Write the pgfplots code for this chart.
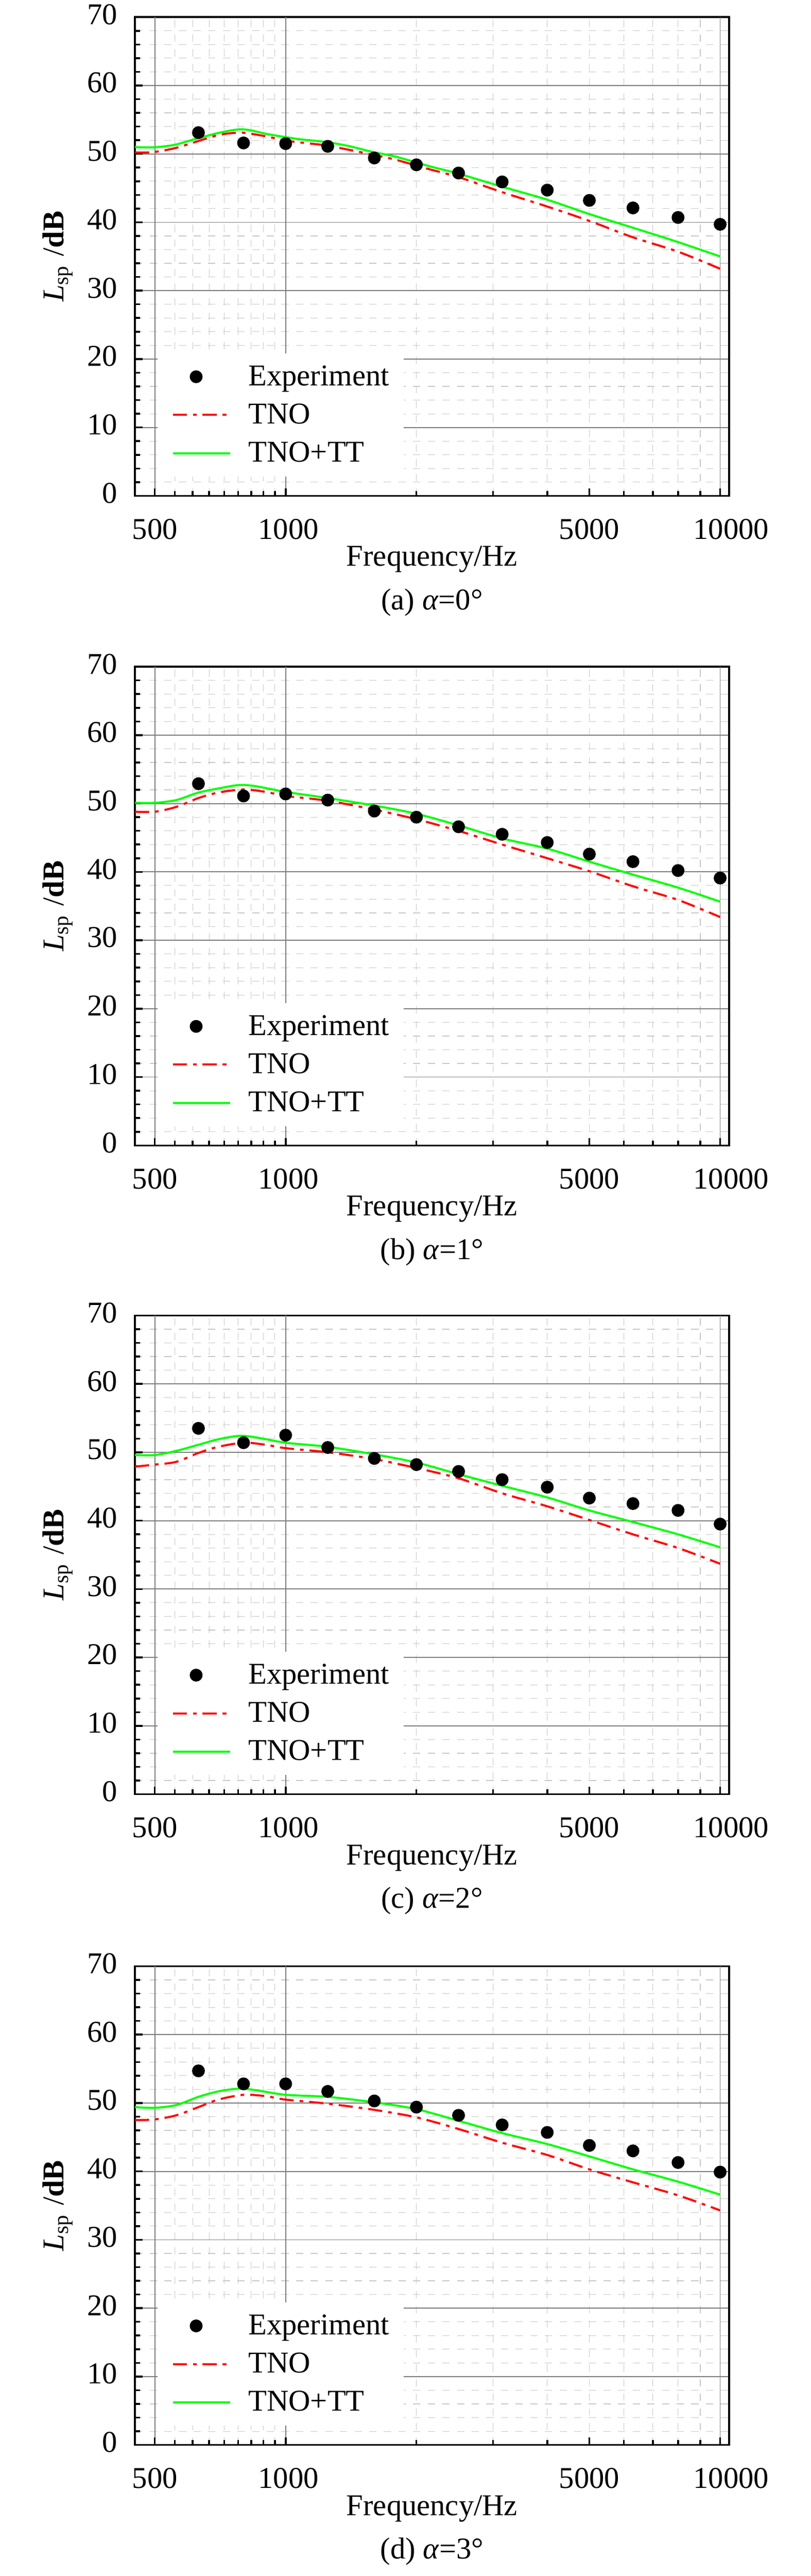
\documentclass[border=0pt]{standalone}
\usepackage{fontspec}
\setmainfont{Liberation Serif}
\usepackage{pgfplots}
\pgfplotsset{compat=1.18}
\newcommand{\fs}{\fontsize{6.6pt}{7.9pt}\selectfont}
\definecolor{majgrid}{RGB}{125,125,125}
\definecolor{mingrid}{RGB}{200,200,200}
\definecolor{tnored}{RGB}{255,0,0}
\definecolor{ttgreen}{RGB}{0,255,0}
\pgfplotsset{
  every axis/.append style={
    scale only axis, width=129.85pt, height=104.6pt, clip=false,
    xmin=450, xmax=10480, ymin=0, ymax=70,
    xtick={500,1000,5000,10000},
    xticklabels={500,\hspace*{1.2pt}1000,5000,\hspace*{4.8pt}10000},
    minor xtick={555.56,611.11,666.67,722.22,777.78,833.33,888.89,944.44,2000,3000,4000,5000,6000,7000,8000,9000},
    ytick={0,10,20,30,40,50,60,70}, minor y tick num=4,
    tick align=inside, xtick pos=left, ytick pos=left,
    major tick length=1.65pt, minor tick length=1.1pt,
    axis line style={line width=0.4pt},
    ymajorgrids=true, yminorgrids=true, xminorgrids=true,
    major grid style={majgrid, line width=0.2pt},
    minor grid style={mingrid, line width=0.13pt, dash pattern=on 1.6pt off 1.6pt},
    extra x ticks={500,1000,10000}, extra x tick labels={},
    extra x tick style={grid=major},
    /pgf/number format/assume math mode=true,
    yticklabel style={font=\fs, xshift=-0.3pt, yshift=0.6pt},
    xticklabel style={font=\fs, yshift=-1.5pt},
    xlabel={Frequency/Hz},
    xlabel style={font=\fs, at={(axis description cs:0.5,-0.133)}, anchor=center},
    ylabel={\textit{L}\textsubscript{sp} /\textbf{dB}},
    ylabel style={font=\fs, at={(axis description cs:-0.130,0.5)}, anchor=center},
    legend style={at={(rel axis cs:0.0366,0.2994)}, anchor=north west, draw=none, fill=white,
      inner xsep=3.1pt, inner ysep=2pt, font=\fs, row sep=2.15pt, column sep=3.8pt,
      nodes={inner sep=0pt, text height=5pt, text depth=1.2pt}},
    legend cell align=left,
  },
  every tick/.append style={black, line width=0.4pt},
  expleg/.style={legend image code/.code={\path (0pt,0pt) (12.5pt,0pt); \draw[##1] plot coordinates {(5.1pt,0pt)};}},
  lineleg/.style={legend image code/.code={\draw[##1] (0pt,0pt) -- (12.5pt,0pt);}},
  expst/.style={only marks, mark=*, mark size=1.2pt, black, expleg},
  tnost/.style={tnored, line width=0.45pt, dash pattern=on 3.1pt off 1.3pt on 0.8pt off 1.3pt, smooth, no marks, lineleg},
  ttst/.style={ttgreen, line width=0.45pt, smooth, no marks, lineleg},
}
\begin{document}
\begin{tikzpicture}
\useasboundingbox (0,0) rectangle (177.2pt,562.8pt);
% (a)
\begin{semilogxaxis}[at={(29.5pt,454.47pt)}, anchor=south west]
\addplot[expst] coordinates {(630,53.1)(800,51.6)(1000,51.5)(1250,51.1)(1600,49.4)(2000,48.4)(2500,47.2)(3150,45.9)(4000,44.7)(5000,43.2)(6300,42.1)(8000,40.7)(10000,39.7)};
\addlegendentry{Experiment}
\addplot[tnost] coordinates {(450,50.2)(495,50.25)(553,50.8)(617,51.7)(699,52.75)(772,53.1)(810,53.05)(895,52.6)(1000,51.95)(1105,51.6)(1235,51.25)(1397,50.6)(1581,49.9)(1790,49.15)(2128,47.8)(2500,46.6)(3150,44.4)(4000,42.3)(5000,40.2)(6300,37.8)(8000,35.7)(10000,33.2)};
\addlegendentry{TNO}
\addplot[ttst] coordinates {(450,51.0)(495,50.95)(553,51.3)(610,52.05)(699,53.05)(772,53.55)(822,53.5)(907,52.9)(1000,52.45)(1091,52.1)(1235,51.75)(1397,51.15)(1581,50.3)(1790,49.6)(2128,48.25)(2500,47.1)(3150,45.2)(4000,43.3)(5000,41.2)(6300,39.2)(8000,37.1)(10000,35.0)};
\addlegendentry{TNO+TT}
\node[font=\fs] at (axis description cs:0.5,-0.223) {(a) \textit{α}=0°};
\end{semilogxaxis}
% (b)
\begin{semilogxaxis}[at={(29.5pt,312.54pt)}, anchor=south west]
\addplot[expst] coordinates {(630,52.9)(800,51.1)(1000,51.4)(1250,50.5)(1600,48.9)(2000,48.0)(2500,46.6)(3150,45.5)(4000,44.3)(5000,42.6)(6300,41.5)(8000,40.2)(10000,39.1)};
\addlegendentry{Experiment}
\addplot[tnost] coordinates {(450,48.8)(500,48.8)(560,49.5)(630,50.8)(700,51.6)(800,52.05)(900,51.7)(1000,51.1)(1250,50.4)(1600,49.1)(2000,47.7)(2500,46.0)(3150,44.0)(4000,42.0)(5000,40.1)(6300,37.9)(8000,35.9)(10000,33.4)};
\addlegendentry{TNO}
\addplot[ttst] coordinates {(450,50.1)(500,50.1)(560,50.5)(630,51.6)(700,52.2)(780,52.7)(850,52.55)(1000,51.7)(1250,50.8)(1600,49.7)(2000,48.5)(2500,46.8)(3150,44.9)(4000,43.4)(5000,41.5)(6300,39.6)(8000,37.7)(10000,35.65)};
\addlegendentry{TNO+TT}
\node[font=\fs] at (axis description cs:0.5,-0.223) {(b) \textit{α}=1°};
\end{semilogxaxis}
% (c)
\begin{semilogxaxis}[at={(29.5pt,170.8pt)}, anchor=south west]
\addplot[expst] coordinates {(630,53.5)(800,51.4)(1000,52.5)(1250,50.7)(1600,49.1)(2000,48.2)(2500,47.2)(3150,46.0)(4000,44.9)(5000,43.3)(6300,42.5)(8000,41.5)(10000,39.5)};
\addlegendentry{Experiment}
\addplot[tnost] coordinates {(450,47.9)(500,48.2)(560,48.6)(630,49.9)(700,50.8)(800,51.4)(900,51.1)(1000,50.6)(1250,50.0)(1600,49.0)(2000,47.7)(2500,46.2)(3150,44.0)(4000,42.1)(5000,40.1)(6300,38.0)(8000,36.0)(10000,33.7)};
\addlegendentry{TNO}
\addplot[ttst] coordinates {(450,49.6)(500,49.6)(560,50.2)(630,51.1)(700,51.9)(780,52.4)(850,52.2)(1000,51.4)(1250,50.8)(1600,49.7)(2000,48.5)(2500,46.8)(3150,45.1)(4000,43.4)(5000,41.5)(6300,39.8)(8000,38.0)(10000,36.1)};
\addlegendentry{TNO+TT}
\node[font=\fs] at (axis description cs:0.5,-0.223) {(c) \textit{α}=2°};
\end{semilogxaxis}
% (d)
\begin{semilogxaxis}[at={(29.5pt,28.63pt)}, anchor=south west]
\addplot[expst] coordinates {(630,54.7)(800,52.8)(1000,52.8)(1250,51.7)(1600,50.3)(2000,49.4)(2500,48.2)(3150,46.8)(4000,45.7)(5000,43.8)(6300,43.0)(8000,41.3)(10000,39.9)};
\addlegendentry{Experiment}
\addplot[tnost] coordinates {(450,47.5)(500,47.6)(560,48.2)(630,49.4)(700,50.5)(800,51.2)(900,51.0)(1000,50.5)(1250,49.9)(1600,49.0)(2000,47.9)(2500,46.2)(3150,44.2)(4000,42.4)(5000,40.3)(6300,38.4)(8000,36.5)(10000,34.3)};
\addlegendentry{TNO}
\addplot[ttst] coordinates {(450,49.4)(500,49.3)(560,49.7)(630,50.9)(700,51.7)(780,52.1)(850,51.9)(1000,51.2)(1250,50.9)(1600,50.1)(2000,49.1)(2500,47.4)(3150,45.6)(4000,44.0)(5000,42.2)(6300,40.3)(8000,38.5)(10000,36.6)};
\addlegendentry{TNO+TT}
\node[font=\fs] at (axis description cs:0.5,-0.223) {(d) \textit{α}=3°};
\end{semilogxaxis}
\end{tikzpicture}
\end{document}
